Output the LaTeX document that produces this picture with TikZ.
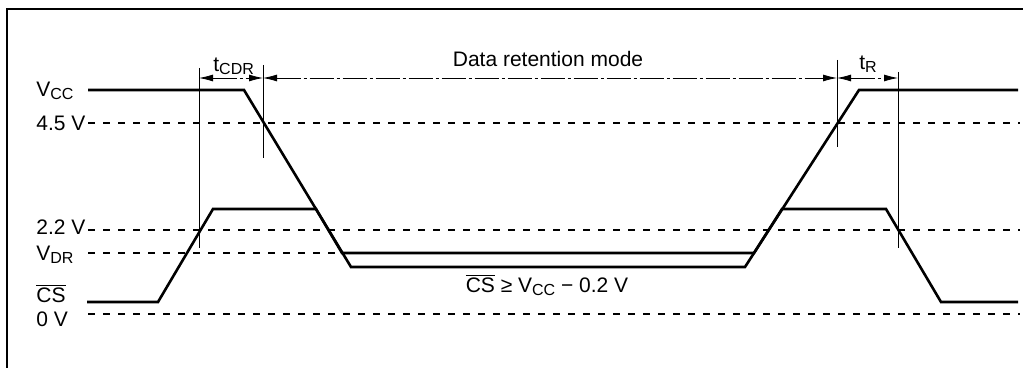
\documentclass[tikz,border=0pt]{standalone}
\usepackage{fontspec}
\setmainfont{Liberation Sans}
\usetikzlibrary{arrows.meta}
\newcommand{\sbs}[1]{\raisebox{-1.3pt}{\fontsize{8}{9}\selectfont #1}}
\begin{document}
\begin{tikzpicture}[x=0.5pt,y=-0.5pt,
  font=\fontsize{10.5}{12}\selectfont,
  sig/.style={line width=1.3pt, line join=miter},
  lvl/.style={line width=0.6pt, dash pattern=on 3.5pt off 4pt},
  guide/.style={line width=0.4pt},
  dim/.style={line width=0.4pt, dash pattern=on 12pt off 1.5pt on 1.5pt off 1.5pt,
    {Latex[length=7pt,width=3.5pt]}-{Latex[length=7pt,width=3.5pt]}},
  lbl/.style={anchor=base west, inner sep=0pt},
  frame/.style={line width=0.8pt}]
\useasboundingbox (0,0) rectangle (1023,368);
% frame
\draw[frame] (7,368) -- (7,9) -- (1023,9);
% level labels
\node[lbl] (lvcc) at (36,97) {V\sbs{CC}};
\node[lbl] (l45) at (36,131) {4.5 V};
\node[lbl] (l22) at (36,235) {2.2 V};
\node[lbl] (lvdr) at (36,261) {V\sbs{DR}};
\node[lbl] (lcs) at (36,303) {$\overline{\mbox{CS}}$};
\node[lbl] (l0) at (36,327) {0 V};
% dashed levels
\draw[lvl] (88,123) -- (1020,123);
\draw[lvl] (88,230) -- (1020,230);
\draw[lvl] (88,253) -- (342,253);
\draw[lvl] (88,314) -- (1020,314);
% guide lines
\coordinate (g1t) at (199,68);  \coordinate (g1b) at (199,248);
\coordinate (g2t) at (263,65);  \coordinate (g2b) at (263,158);
\coordinate (g3t) at (837,60);  \coordinate (g3b) at (837,147);
\coordinate (g4t) at (898,72);  \coordinate (g4b) at (898,248);
\draw[guide] (g1t) -- (g1b);
\draw[guide] (g2t) -- (g2b);
\draw[guide] (g3t) -- (g3b);
\draw[guide] (g4t) -- (g4b);
% dimension arrows
\coordinate (a1) at (199,78);
\coordinate (a2) at (263,78);
\coordinate (a3) at (837,78);
\coordinate (a4) at (898,78);
\draw[dim] (a1) -- (a2);
\draw[dim] (a2) -- (a3);
\draw[dim] (a3) -- (a4);
\node[lbl] (tcdr) at (213,72) {t\sbs{CDR}};
\node[lbl] (tr) at (859,70) {t\sbs{R}};
\node[anchor=base, inner sep=0pt] (drm) at (548,67) {Data retention mode};
% signals
\draw[sig] (88,90) -- (244,90) -- (351,267) -- (745,267) -- (859,90) -- (1018,90);
\draw[sig] (87,302) -- (158,302) -- (213,209) -- (316,209) -- (342,253) -- (754,253)
  -- (782,209) -- (886,209) -- (941,302) -- (1018,302);
\node[anchor=base, inner sep=0pt] (cond) at (547,293)
  {$\overline{\mbox{CS}}$ ≥ V\sbs{CC} − 0.2 V};
\end{tikzpicture}
\end{document}
